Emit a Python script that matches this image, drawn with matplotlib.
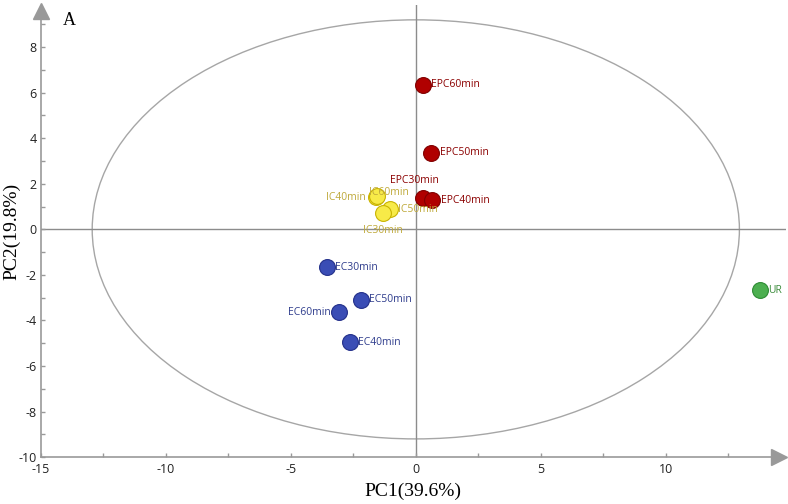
import matplotlib.pyplot as plt
import matplotlib.patches as patches
from matplotlib.ticker import MultipleLocator

plt.rcParams['axes.unicode_minus'] = False

# —— data —— #
labels_epc = ["EPC60min", "EPC50min", "EPC30min", "EPC40min"]
x_epc = [0.28, 0.62, 0.28, 0.66]
y_epc = [6.35, 3.37, 1.36, 1.27]

labels_ic = ["IC40min", "IC60min", "IC50min", "IC30min"]
x_ic = [-1.60, -1.54, -1.04, -1.32]
y_ic = [1.42, 1.45, 0.88, 0.70]

labels_ec = ["EC30min", "EC50min", "EC60min", "EC40min"]
x_ec = [-3.56, -2.20, -3.08, -2.64]
y_ec = [-1.66, -3.10, -3.63, -4.95]

labels_ur = ["UR"]
x_ur = [13.76]
y_ur = [-2.67]

ellipse_a, ellipse_b = 12.95, 9.2
xticks = [-15, -10, -5, 0, 5, 10]
yticks = [-10, -8, -6, -4, -2, 0, 2, 4, 6, 8]

# label placement (offset in points, alignment)
place_epc = [((6, 0), 'left', 'center'), ((6, 0), 'left', 'center'),
             ((-6, 9), 'center', 'bottom'), ((6, 0), 'left', 'center')]
place_ic = [((-7, 0), 'right', 'center'), ((-6, 3), 'left', 'center'),
            ((6, 0), 'left', 'center'), ((0, -8), 'center', 'top')]
place_ec = [((6, 0), 'left', 'center'), ((6, 0), 'left', 'center'),
            ((-6, 0), 'right', 'center'), ((6, 0), 'left', 'center')]
place_ur = [((6, 0), 'left', 'center')]

groups = [
    (labels_epc, x_epc, y_epc, place_epc, '#B00000', '#800000', '#8B0000'),
    (labels_ic, x_ic, y_ic, place_ic, '#F7EA48', '#C9B300', '#BFA93A'),
    (labels_ec, x_ec, y_ec, place_ec, '#3A4DB5', '#23308A', '#2E3C8C'),
    (labels_ur, x_ur, y_ur, place_ur, '#4CAF50', '#2E8B34', '#3C8C3C'),
]

fig = plt.figure(figsize=(7.88, 5.04), dpi=100)
ax = fig.add_axes([0.052, 0.093, 0.945, 0.897])

gray = '#999999'

# ellipse + zero lines
ax.add_patch(patches.Ellipse((0, 0), 2 * ellipse_a, 2 * ellipse_b,
                             fill=False, edgecolor='#A6A6A6', linewidth=1.0))
ax.axhline(0, color='#8C8C8C', linewidth=1.0, zorder=1)
ax.axvline(0, color='#8C8C8C', linewidth=1.0, zorder=1)

for names, xs, ys, places, fc, ec, tc in groups:
    ax.scatter(xs, ys, s=130, color=fc, edgecolor=ec, linewidth=0.8, zorder=5)
    for name, xv, yv, (off, ha, va) in zip(names, xs, ys, places):
        ax.annotate(name, (xv, yv), xytext=off, textcoords='offset points',
                    ha=ha, va=va, color=tc, fontsize=7.5,
                    family='Open Sans', zorder=6)

ax.set_xlim(-15, 14.8)
ax.set_ylim(-10, 9.85)

for s in ['top', 'right']:
    ax.spines[s].set_visible(False)
for s in ['left', 'bottom']:
    ax.spines[s].set_color(gray)
    ax.spines[s].set_linewidth(1.2)
ax.spines['bottom'].set_bounds(-15, 14.3)
ax.spines['left'].set_bounds(-10, 9.3)

# arrow heads
ax.plot([14.54], [-10], marker='>', markersize=11, color=gray,
        clip_on=False, zorder=7)
ax.plot([-15], [9.6], marker='^', markersize=11, color=gray,
        clip_on=False, zorder=7)

ax.set_xticks(xticks)
ax.set_yticks(yticks)
ax.xaxis.set_minor_locator(MultipleLocator(2.5))
ax.yaxis.set_minor_locator(MultipleLocator(1))
ax.tick_params(which='both', direction='in', color=gray, length=3, width=1,
               labelsize=9, labelcolor='#222222')
ax.tick_params(axis='x', pad=4)
ax.tick_params(axis='y', pad=3)
for t in ax.get_xticklabels() + ax.get_yticklabels():
    t.set_family('Open Sans')

ax.set_xlabel('PC1(39.6%)', family='Liberation Serif', fontsize=14, labelpad=5)
ax.set_ylabel('PC2(19.8%)', family='Liberation Serif', fontsize=14)
ax.yaxis.set_label_coords(-0.027, 0.5)

ax.text(0.03, 0.985, 'A', transform=ax.transAxes, family='Liberation Serif',
        fontsize=13, ha='left', va='top')

fig.savefig('out.png', dpi=100)
